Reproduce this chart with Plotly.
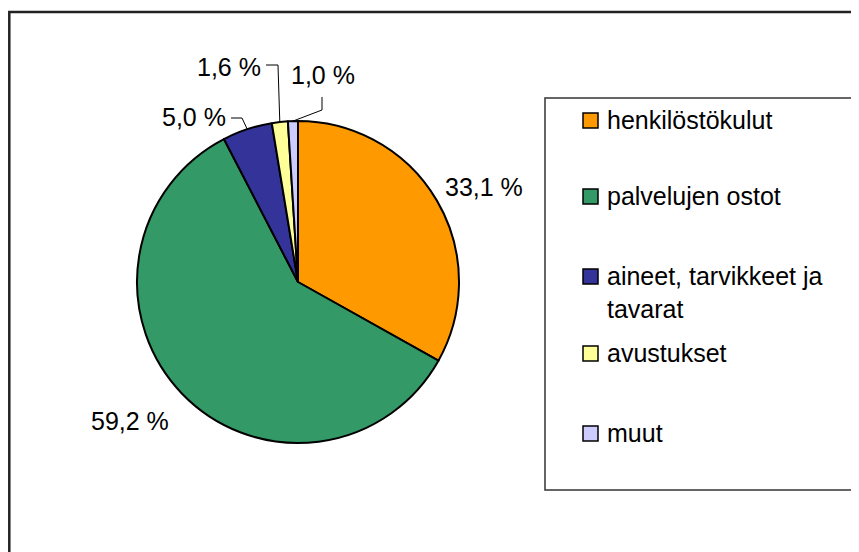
import math
import plotly.graph_objects as go

# ---- data ----
categories = ["henkilöstökulut", "palvelujen ostot", "aineet, tarvikkeet ja<br>tavarat", "avustukset", "muut"]
values = [33.1, 59.2, 5.0, 1.6, 1.0]
value_labels = ["33,1 %", "59,2 %", "5,0 %", "1,6 %", "1,0 %"]
colors = ["#FF9900", "#339966", "#333399", "#FFFF99", "#CCCCFF"]

# page has an 8px body margin; figure sized to fill the window from there
OFF = 8
W, H = 859 - OFF, 552 - OFF
FONT = "Liberation Sans, Arial, sans-serif"
FS = 25


def px(x):
    return (x - OFF) / W


def py(y):
    return 1 - (y - OFF) / H


# pie geometry (page pixels)
cx, cy, r = 298, 282, 161

fig = go.Figure()
fig.add_trace(go.Pie(
    labels=categories,
    values=values,
    sort=False,
    direction="clockwise",
    rotation=0,
    marker=dict(colors=colors, line=dict(color="black", width=2)),
    textinfo="none",
    hoverinfo="label+percent",
    showlegend=False,
    domain=dict(x=[px(cx - r), px(cx + r)], y=[py(cy + r), py(cy - r)]),
))

# slice mid-angle edge points (computed from data)
total = sum(values)
edges = []
acc = 0.0
for v in values:
    mid = (acc + v / 2) / total * 2 * math.pi
    edges.append((cx + r * math.sin(mid), cy - r * math.cos(mid)))
    acc += v

shapes = []
annotations = []

# outer chart border (only top and left are visible)
shapes.append(dict(type="rect", xref="paper", yref="paper",
                   x0=px(9.3), x1=px(900), y0=py(600), y1=py(12),
                   line=dict(color="#222222", width=2.5), fillcolor="rgba(0,0,0,0)", layer="below"))

# data labels: (anchor x, y, xanchor, leader elbows)
label_pos = [
    (484, 187, "center", None),
    (130, 421, "center", None),
    (228, 117, "right", [(231, 118), (242, 118)]),
    (263, 67, "right", [(266, 65), (278, 65)]),
    (289, 75, "left", [(322, 97), (322, 110)]),
]
for i, (lx, ly, xa, elbow) in enumerate(label_pos):
    annotations.append(dict(x=px(lx), y=py(ly), xref="paper", yref="paper",
                            text=value_labels[i], showarrow=False, xanchor=xa, yanchor="middle",
                            font=dict(family=FONT, size=FS, color="black")))
    if elbow:
        pts = elbow + [edges[i]]
        path = "M " + " L ".join(f"{px(a):.5f},{py(b):.5f}" for a, b in pts)
        shapes.append(dict(type="path", xref="paper", yref="paper", path=path,
                           line=dict(color="black", width=1)))

# legend box
shapes.append(dict(type="rect", xref="paper", yref="paper",
                   x0=px(545), x1=px(856), y0=py(490), y1=py(98),
                   line=dict(color="#333333", width=1.5), fillcolor="white"))
legend_y = [120, 196, 276, 353, 433]
for i, cat in enumerate(categories):
    yy = legend_y[i]
    shapes.append(dict(type="rect", xref="paper", yref="paper",
                       x0=px(583), x1=px(598), y0=py(yy + 8), y1=py(yy - 7),
                       line=dict(color="black", width=1.5), fillcolor=colors[i]))
    annotations.append(dict(x=px(605), y=py(yy - 16), xref="paper", yref="paper",
                            text=cat, showarrow=False, xanchor="left", yanchor="top", align="left",
                            font=dict(family=FONT, size=FS, color="black")))

fig.update_layout(
    width=W, height=H,
    margin=dict(l=0, r=0, t=0, b=0),
    paper_bgcolor="white", plot_bgcolor="white",
    shapes=shapes, annotations=annotations,
    showlegend=False,
)

fig.write_html("out.html")
